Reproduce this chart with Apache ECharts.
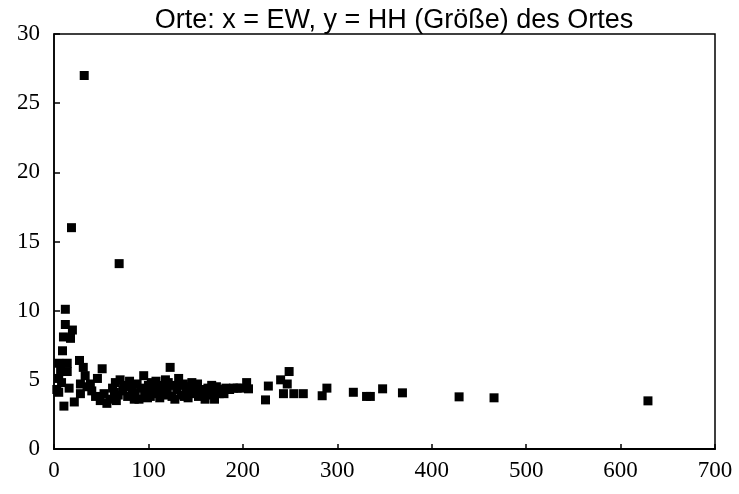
<!DOCTYPE html>
<html>
<head>
<meta charset="utf-8">
<script src="https://cdn.jsdelivr.net/npm/echarts@6/dist/echarts.min.js"></script>
<style>
  html, body { margin: 0; padding: 0; background: #fff; }
  #chart { width: 739px; height: 494px; }
</style>
</head>
<body>
<div id="chart"></div>
<script>
// x = EW, y = HH (Größe) des Ortes
var outliers = [[32, 27], [18.5, 16], [69, 13.4]];
var nearOrigin = [
  [12, 10.1], [12, 9.0], [19.5, 8.6], [10, 8.1], [17.5, 8.0], [9, 7.1], [5, 6.2], [14, 6.2],
  [5, 5.1], [7, 5.7], [14, 5.6], [5, 4.1], [16, 4.4], [10.5, 3.1], [21.5, 3.4], [27, 6.4],
  [31, 5.9], [33, 5.3], [28, 4.7], [28, 4.0], [40, 4.2], [46, 5.1], [51, 5.8], [49, 3.5],
  [56, 3.3], [53, 4.0], [38.5, 4.7], [3, 4.3], [8, 4.8], [35, 4.5], [44, 3.8], [59, 3.6]
];
var mainCluster = [
  [62, 4.4], [65, 4.8], [68, 3.9], [70, 5.0], [73, 4.2], [76, 4.6], [78, 3.8], [80, 4.9],
  [83, 4.3], [86, 4.0], [88, 4.7], [90, 3.6], [92, 4.4], [95, 5.3], [97, 4.0], [100, 4.6],
  [102, 3.8], [105, 4.3], [108, 4.9], [110, 4.1], [112, 3.7], [115, 4.5], [118, 5.0], [120, 4.2],
  [123, 5.9], [125, 3.8], [127, 4.6], [130, 4.3], [132, 5.1], [135, 3.9], [137, 4.7], [140, 4.2],
  [142, 3.7], [145, 4.5], [148, 4.0], [150, 4.4], [153, 3.8], [155, 4.3], [158, 4.1], [160, 3.6],
  [163, 4.4], [165, 3.9], [168, 4.2], [170, 3.6], [172, 4.5], [175, 4.0], [178, 4.3], [182, 4.4],
  [186, 4.3], [190, 4.4], [194, 4.4], [66, 3.5], [85, 3.6], [103, 4.8], [128, 3.6], [146, 4.8],
  [113, 4.6], [138, 3.8], [74, 4.5], [96, 4.2], [64, 4.1], [82, 4.6], [99, 3.7], [116, 3.9],
  [133, 4.6], [152, 4.7], [167, 4.6], [180, 4.0], [107, 4.0], [121, 4.8]
];
var tail = [
  [197, 4.4], [204, 4.8], [206, 4.35], [224, 3.55], [227, 4.55], [240, 5.0], [247, 4.7], [249, 5.6],
  [243, 4.0], [254, 4.0], [264, 4.0], [284, 3.85], [289, 4.4], [317, 4.1], [331, 3.8], [335, 3.8],
  [348, 4.35], [369, 4.06], [429, 3.77], [466, 3.7], [629, 3.48]
];

var allPoints = outliers.concat(nearOrigin, mainCluster, tail);

var myChart = echarts.init(document.getElementById("chart"));
var axisFont = { color: "#000", fontFamily: "Liberation Serif", fontSize: 23 };

var option = {
  backgroundColor: "#fff",
  animation: false,
  title: {
    text: "Orte: x = EW, y = HH (Größe) des Ortes",
    left: 389,
    textAlign: "center",
    top: 2,
    textStyle: { color: "#000", fontFamily: "Liberation Sans", fontSize: 27, fontWeight: "normal" }
  },
  grid: {
    left: 54, right: 24, top: 34, bottom: 45,
    show: true, borderColor: "#000", borderWidth: 1.5, backgroundColor: "transparent"
  },
  xAxis: {
    type: "value", min: 0, max: 700, interval: 100,
    axisLine: { lineStyle: { color: "#000", width: 2 } },
    axisTick: { inside: true, length: 5, lineStyle: { color: "#000", width: 1.5 } },
    axisLabel: Object.assign({ margin: 10 }, axisFont),
    splitLine: { show: false }
  },
  yAxis: {
    type: "value", min: 0, max: 30, interval: 5,
    axisLine: { show: true, lineStyle: { color: "#000", width: 1.5 } },
    axisTick: { show: true, inside: true, length: 6, lineStyle: { color: "#000", width: 1.5 } },
    axisLabel: Object.assign({ margin: 14 }, axisFont),
    splitLine: { show: false }
  },
  series: [
    {
      type: "scatter",
      symbol: "rect",
      symbolSize: 9,
      itemStyle: { color: "#000", opacity: 1 },
      data: allPoints
    }
  ]
};
myChart.setOption(option);
</script>
</body>
</html>
